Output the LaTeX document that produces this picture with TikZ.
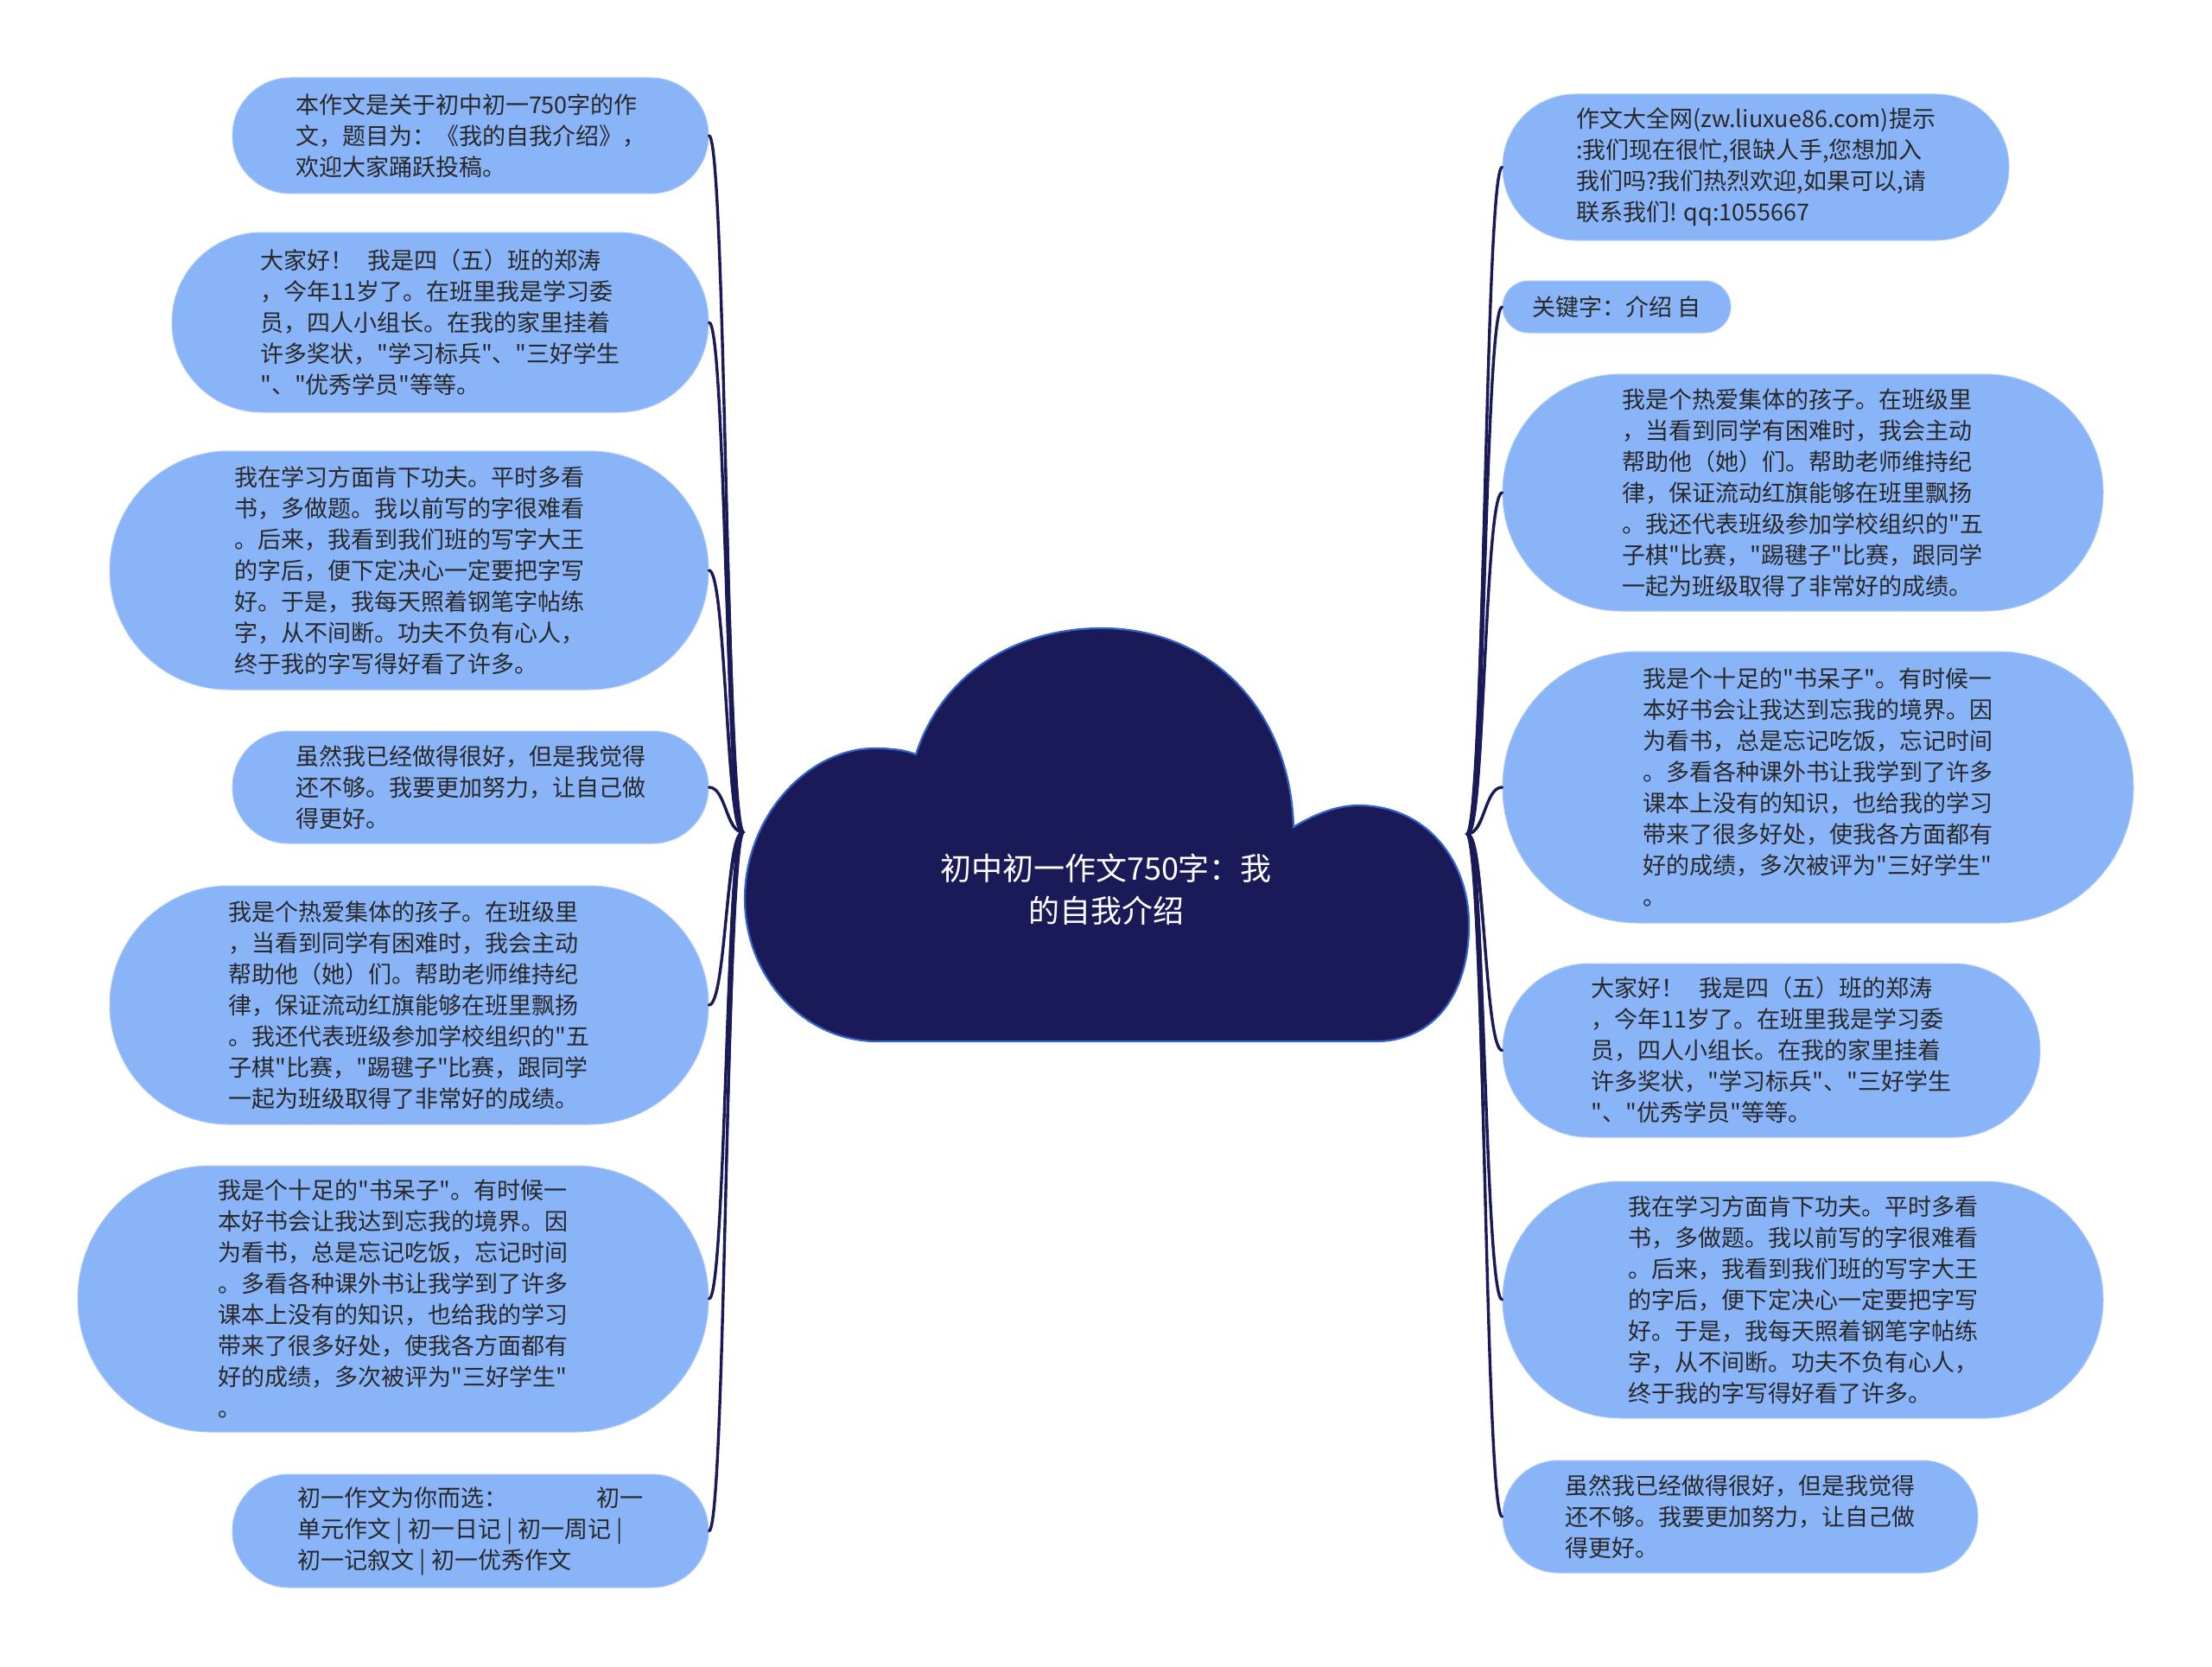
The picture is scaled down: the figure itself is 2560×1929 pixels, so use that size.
\documentclass[tikz,border=0pt]{standalone}
\usepackage{fontspec}
\setmainfont{Noto Sans CJK SC}[Ligatures=TeXOff]
\usetikzlibrary{calc}
\definecolor{navy}{RGB}{27,26,88}
\definecolor{bubfill}{RGB}{138,180,248}
\definecolor{bubrim}{RGB}{170,200,250}
\definecolor{cloudrim}{RGB}{52,98,200}
\definecolor{txt}{RGB}{40,40,40}
\begin{document}
\begin{tikzpicture}[x=1pt,y=-1pt,
  bub/.style 2 args={draw=bubrim, line width=1pt, fill=bubfill, rectangle,
    rounded corners={#2*0.499pt}, minimum width=#1pt, minimum height=#2pt,
    inner sep=0pt, align=left, text=txt, font=\fontsize{27}{36}\selectfont},
  rootlabel/.style={align=center, text=white, font=\fontsize{36}{49}\selectfont},
  cloudshape/.style={fill=navy, draw=cloudrim, line width=2.2pt},
  conn/.style={fill=navy},
  connline/.style={draw=navy, line width=3.4pt, line cap=round}]
\fill[white] (0,0) rectangle (2560,1929);
\useasboundingbox (0,0) rectangle (2560,1929);

% central cloud
\path[cloudshape]
 (1015,1205) .. controls (930,1205) and (862,1130) .. (862,1040)
 .. controls (862,945) and (935,866) .. (1012,866)
 .. controls (1032,866) and (1048,868) .. (1060,873)
 .. controls (1090,780) and (1175,727) .. (1275,727)
 .. controls (1400,727) and (1493,820) .. (1497,957)
 .. controls (1525,940) and (1550,932) .. (1572,932)
 .. controls (1650,932) and (1700,995) .. (1700,1070)
 .. controls (1700,1150) and (1660,1205) .. (1592,1205)
 -- cycle;
\node[rootlabel] (root) at (1280,1029) {初中初一作文750字：我\\的自我介绍};
\coordinate (LH) at (860,963);
\coordinate (RH) at (1698,965);

% left nodes
\node[bub={551}{134}] (l1) at (544.5,157) {本作文是关于初中初一750字的作\\文，题目为：《我的自我介绍》，\\欢迎大家踊跃投稿。};
\node[bub={621}{208}] (l2) at (509.5,373) {大家好！\hspace{0.6em}我是四（五）班的郑涛\\，今年11岁了。在班里我是学习委\\员，四人小组长。在我的家里挂着\\许多奖状，"学习标兵"、"三好学生\\"、"优秀学员"等等。};
\node[bub={693}{276}] (l3) at (473.5,660) {我在学习方面肯下功夫。平时多看\\书，多做题。我以前写的字很难看\\。后来，我看到我们班的写字大王\\的字后，便下定决心一定要把字写\\好。于是，我每天照着钢笔字帖练\\字，从不间断。功夫不负有心人，\\终于我的字写得好看了许多。};
\node[bub={551}{130}] (l4) at (544.5,911) {虽然我已经做得很好，但是我觉得\\还不够。我要更加努力，让自己做\\得更好。};
\node[bub={693}{276}] (l5) at (473.5,1163) {我是个热爱集体的孩子。在班级里\\，当看到同学有困难时，我会主动\\帮助他（她）们。帮助老师维持纪\\律，保证流动红旗能够在班里飘扬\\。我还代表班级参加学校组织的"五\\子棋"比赛，"踢毽子"比赛，跟同学\\一起为班级取得了非常好的成绩。};
\node[bub={730}{308}] (l6) at (455,1503) {我是个十足的"书呆子"。有时候一\\本好书会让我达到忘我的境界。因\\为看书，总是忘记吃饭，忘记时间\\。多看各种课外书让我学到了许多\\课本上没有的知识，也给我的学习\\带来了很多好处，使我各方面都有\\好的成绩，多次被评为"三好学生"\\。};
\node[bub={551}{131}] (l7) at (544.5,1771.5) {初一作文为你而选：\hspace{3.8em}初一\\单元作文 | 初一日记 | 初一周记 |\\初一记叙文 | 初一优秀作文};

% right nodes
\node[bub={586}{169}] (r1) at (2032,193.5) {作文大全网(zw.liuxue86.com)提示\\:我们现在很忙,很缺人手,您想加入\\我们吗?我们热烈欢迎,如果可以,请\\联系我们! qq:1055667};
\node[bub={264}{60}] (r2) at (1871,355) {关键字：介绍 自};
\node[bub={695}{274}] (r3) at (2086.5,570) {我是个热爱集体的孩子。在班级里\\，当看到同学有困难时，我会主动\\帮助他（她）们。帮助老师维持纪\\律，保证流动红旗能够在班里飘扬\\。我还代表班级参加学校组织的"五\\子棋"比赛，"踢毽子"比赛，跟同学\\一起为班级取得了非常好的成绩。};
\node[bub={730}{314}] (r4) at (2104,911) {我是个十足的"书呆子"。有时候一\\本好书会让我达到忘我的境界。因\\为看书，总是忘记吃饭，忘记时间\\。多看各种课外书让我学到了许多\\课本上没有的知识，也给我的学习\\带来了很多好处，使我各方面都有\\好的成绩，多次被评为"三好学生"\\。};
\node[bub={622}{201}] (r5) at (2050,1215.5) {大家好！\hspace{0.6em}我是四（五）班的郑涛\\，今年11岁了。在班里我是学习委\\员，四人小组长。在我的家里挂着\\许多奖状，"学习标兵"、"三好学生\\"、"优秀学员"等等。};
\node[bub={695}{274}] (r6) at (2086.5,1504) {我在学习方面肯下功夫。平时多看\\书，多做题。我以前写的字很难看\\。后来，我看到我们班的写字大王\\的字后，便下定决心一定要把字写\\好。于是，我每天照着钢笔字帖练\\字，从不间断。功夫不负有心人，\\终于我的字写得好看了许多。};
\node[bub={550}{130}] (r7) at (2014,1755) {虽然我已经做得很好，但是我觉得\\还不够。我要更加努力，让自己做\\得更好。};

% connectors (tapered toward the hub)
\foreach \nm in {l1,l2,l3,l4,l5,l6,l7}{
  \fill[conn] let \p1=(\nm.east), \p2=(LH) in
    (\p1) .. controls ({(\x1+\x2)/2},\y1) and ({(\x1+\x2)/2-2.4pt},\y2) .. ({\x2-2.4pt},\y2)
    -- ({\x2+2.4pt},\y2) .. controls ({(\x1+\x2)/2+2.4pt},\y2) and ({(\x1+\x2)/2},\y1) .. (\p1) -- cycle;
  \draw[connline] let \p1=(\nm.east), \p2=(LH) in
    (\p1) .. controls ({(\x1+\x2)/2},\y1) and ({(\x1+\x2)/2},\y2) .. (\p2);
}
\foreach \nm in {r1,r2,r3,r4,r5,r6,r7}{
  \fill[conn] let \p1=(\nm.west), \p2=(RH) in
    (\p1) .. controls ({(\x1+\x2)/2},\y1) and ({(\x1+\x2)/2-2.4pt},\y2) .. ({\x2-2.4pt},\y2)
    -- ({\x2+2.4pt},\y2) .. controls ({(\x1+\x2)/2+2.4pt},\y2) and ({(\x1+\x2)/2},\y1) .. (\p1) -- cycle;
  \draw[connline] let \p1=(\nm.west), \p2=(RH) in
    (\p1) .. controls ({(\x1+\x2)/2},\y1) and ({(\x1+\x2)/2},\y2) .. (\p2);
}
\end{tikzpicture}
\end{document}
